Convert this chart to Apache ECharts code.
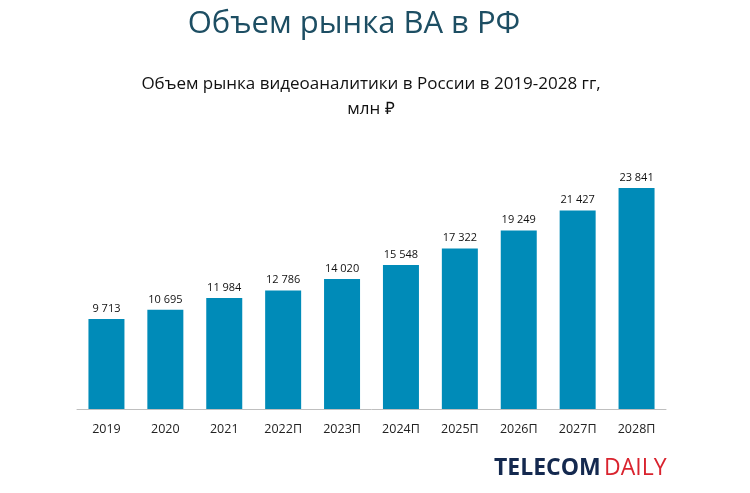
<!DOCTYPE html>
<html><head><meta charset="utf-8">
<script src="https://cdn.jsdelivr.net/npm/echarts@6/dist/echarts.min.js"></script>
<style>body{margin:0;background:#fff}#c{width:750px;height:493px}</style>
</head><body><div id="c"></div>
<script>
let years = ['2019','2020','2021','2022П','2023П','2024П','2025П','2026П','2027П','2028П'];
let values = [9713, 10695, 11984, 12786, 14020, 15548, 17322, 19249, 21427, 23841];

var chart = echarts.init(document.getElementById('c'));
chart.setOption({
  grid: {left: 77, right: 84, top: 168, bottom: 84},
  xAxis: {
    type: 'category', data: years,
    axisLine: {lineStyle: {color: '#bfbfbf'}},
    axisTick: {show: false},
    axisLabel: {color: '#222', fontSize: 12.5, fontFamily: 'Open Sans', margin: 14}
  },
  yAxis: {type: 'value', min: 0, max: 26000, show: false, splitLine: {show: false}},
  series: [{
    type: 'bar', data: values, barWidth: 36,
    itemStyle: {color: '#008bb8'},
    label: {show: true, position: 'top', fontSize: 11, color: '#111', fontFamily: 'Open Sans',
      formatter: p => p.value.toLocaleString('ru-RU').replace(/\s/g, ' ')}
  }],
  graphic: [
    {type: 'text', x: 354, y: 9, style: {text: 'Объем рынка ВА в РФ', align: 'center',
      font: '31px "Open Sans"', fill: '#1d4e63'}},
    {type: 'text', x: 371, y: 72, style: {text: 'Объем рынка видеоаналитики в России в 2019-2028 гг,\nмлн ₽',
      align: 'center', font: '17px "Open Sans"', fill: '#111', lineHeight: 25}},
    {type: 'text', x: 494, y: 457, style: {
      text: '{a|TELECOM} {b|DAILY}',
      rich: {
        a: {fontFamily: 'Open Sans', fontSize: 23, fontWeight: 'bold', fill: '#14294f'},
        b: {fontFamily: 'Open Sans', fontSize: 23, fill: '#d9232e'}
      }
    }}
  ]
});
</script></body></html>
